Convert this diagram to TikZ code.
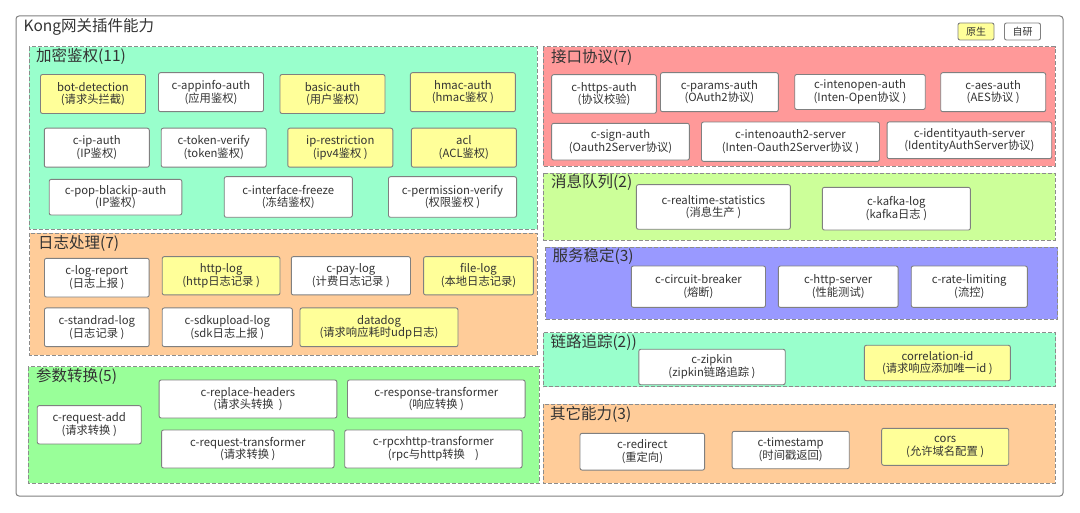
\documentclass[tikz,border=0pt]{standalone}
\usepackage{fontspec}
\setmainfont{Noto Sans CJK SC}
\usepackage{tikz}
\definecolor{boxgray}{HTML}{808080}
\definecolor{dashgray}{HTML}{8C8C8C}
\definecolor{txtgray}{HTML}{333333}
\definecolor{natyellow}{HTML}{FFFF99}
\definecolor{mint}{HTML}{99FFCC}
\definecolor{peach}{HTML}{FFCC99}
\definecolor{leaf}{HTML}{99FF99}
\definecolor{salmon}{HTML}{FF9999}
\definecolor{lime}{HTML}{CCFF99}
\definecolor{lavender}{HTML}{9999FF}
\tikzset{
  plug/.style={draw=boxgray, fill=white, rounded corners=2pt, line width=0.9pt, align=center, inner sep=0pt, text=txtgray, font=\fontsize{11.3}{12.7}\selectfont},
  native/.style={plug, fill=natyellow},
  sz/.style 2 args={minimum width=#1, minimum height=#2},
  sect/.style={draw=dashgray, line width=0.9pt, dash pattern=on 4pt off 2pt},
  secttitle/.style={anchor=west, inner sep=0pt, text=txtgray, font=\fontsize{15.5}{18}\selectfont},
  frame/.style={draw=boxgray, rounded corners=3pt, line width=1pt},
  legend/.style={font=\fontsize{10}{12}\selectfont, sz={36}{17}}
}

\begin{document}
\begin{tikzpicture}[x=1pt, y=-1pt]
\useasboundingbox (0,0) rectangle (1080,513);
\draw[frame] (16,16) rectangle (1063,496);
\node[secttitle] (title) at (23.4,26.7) {Kong网关插件能力};
\node[native, legend] (native) at (976,31.5) {原生};
\node[plug, legend] (own) at (1022.5,31.5) {自研};
\foreach \xa/\ya/\xb/\yb/\c in {29/46.7/537/229/mint, 29.6/233.3/537.2/355.3/peach, 28.2/366.7/539/483.3/leaf, 543.4/46.7/1055/166/salmon, 543.4/173.3/1055/240/lime, 545.5/247.3/1057.6/319.3/lavender, 543.4/332.7/1055.5/386.7/mint, 543.4/404/1055/483.3/peach}
  \draw[sect, fill=\c] (\xa,\ya) rectangle (\xb,\yb);

\node[secttitle] (authtitle) at (36,56.7) {加密鉴权(11)};
\node[native, sz={105}{39}] (botdetection) at (93,94) {bot-detection\\(请求头拦截)};
\node[plug, sz={105}{39}] (appinfo) at (211,92.2) {c-appinfo-auth\\(应用鉴权)};
\node[native, sz={105}{39}] (basicauth) at (332.5,94) {basic-auth\\(用户鉴权)};
\node[native, sz={105}{39}] (hmacauth) at (462.9,92.2) {hmac-auth\\(hmac鉴权 )};
\node[plug, sz={105}{39}] (ipauth) at (96.8,147.7) {c-ip-auth\\(IP鉴权)};
\node[plug, sz={105}{39}] (tokenverify) at (213.7,147.7) {c-token-verify\\(token鉴权)};
\node[native, sz={105}{39}] (iprestriction) at (340.3,147.7) {ip-restriction\\(ipv4鉴权 )};
\node[native, sz={105}{39}] (acl) at (463.9,147.7) {acl\\(ACL鉴权)};
\node[plug, sz={132.6}{35.7}] (popblackip) at (115.5,197.2) {c-pop-blackip-auth\\(IP鉴权)};
\node[plug, sz={128.1}{40.6}] (freeze) at (288.3,197) {c-interface-freeze\\(冻结鉴权)};
\node[plug, sz={128.1}{40.6}] (permission) at (452.5,197) {c-permission-verify\\(权限鉴权 )};

\node[secttitle] (logtitle) at (37.9,243.3) {日志处理(7)};
\node[plug, sz={104.7}{38.7}] (logreport) at (96.8,277.7) {c-log-report\\(日志上报 )};
\node[native, sz={117.8}{38.3}] (httplog) at (221.1,275.8) {http-log\\(http日志记录 )};
\node[plug, sz={119.2}{38.3}] (paylog) at (350.9,275.8) {c-pay-log\\(计费日志记录 )};
\node[native, sz={109.8}{38.3}] (filelog) at (478.5,275.8) {file-log\\(本地日志记录)};
\node[plug, sz={104.7}{38.7}] (standradlog) at (96.8,327.3) {c-standrad-log\\(日志记录 )};
\node[plug, sz={130.2}{38.7}] (sdkupload) at (227.3,327.3) {c-sdkupload-log\\(sdk日志上报 )};
\node[native, sz={158}{38.7}] (datadog) at (379,327.3) {datadog\\(请求响应耗时udp日志)};

\node[secttitle] (paramtitle) at (35.8,376.7) {参数转换(5)};
\node[plug, sz={104}{38.3}] (requestadd) at (89.2,424.8) {c-request-add\\(请求转换 )};
\node[plug, sz={177.7}{38}] (replaceheaders) at (248,399) {c-replace-headers\\(请求头转换 \ )};
\node[plug, sz={177.6}{38}] (responsetrans) at (436.3,399) {c-response-transformer\\(响应转换 )};
\node[plug, sz={172.5}{38}] (requesttrans) at (247.8,449) {c-request-transformer\\(请求转换 )};
\node[plug, sz={177.3}{38}] (rpcxhttp) at (433.4,449) {c-rpcxhttp-transformer\\(rpc与http转换 \ \ \ )};

\node[secttitle] (apititle) at (551,57.3) {接口协议(7)};
\node[plug, sz={104.7}{38.6}] (httpsauth) at (604,94) {c-https-auth\\(协议校验)};
\node[plug, sz={117.8}{39}] (paramsauth) at (719.4,92.2) {c-params-auth\\(OAuth2协议)};
\node[plug, sz={130.5}{35}] (intenopen) at (860,92) {c-intenopen-auth\\(Inten-Open协议 )};
\node[plug, sz={105}{39}] (aesauth) at (993.2,92.2) {c-aes-auth\\(AES协议 )};
\node[plug, sz={137.7}{36.7}] (signauth) at (620.5,141.7) {c-sign-auth\\(Oauth2Server协议)};
\node[plug, sz={178}{39.3}] (intenoauth) at (790.5,141.7) {c-intenoauth2-server\\(Inten-Oauth2Server协议 )};
\node[plug, sz={164.6}{36.7}] (identityauth) at (969.4,140.3) {c-identityauth-server\\(IdentityAuthServer协议)};

\node[secttitle] (mqtitle) at (551,182.7) {消息队列(2)};
\node[plug, sz={154}{44.6}] (realtime) at (713.4,207) {c-realtime-statistics\\(消息生产 )};
\node[plug, sz={148}{42.7}] (kafkalog) at (896.4,208.7) {c-kafka-log\\(kafka日志 )};

\node[secttitle] (stabletitle) at (552.4,256.7) {服务稳定(3)};
\node[plug, sz={134.2}{41.3}] (circuit) at (698.4,286.7) {c-circuit-breaker\\(熔断)};
\node[plug, sz={119.8}{41.3}] (httpserver) at (838.2,286.7) {c-http-server\\(性能测试)};
\node[plug, sz={116.1}{41.3}] (ratelimit) at (969.3,286.7) {c-rate-limiting\\(流控)};

\node[secttitle] (tracetitle) at (550.3,342.7) {链路追踪(2))};
\node[plug, sz={146.4}{35.4}] (zipkin) at (712,367) {c-zipkin\\(zipkin链路追踪 )};
\node[native, sz={146}{35.4}] (correlation) at (937.4,363) {correlation-id\\(请求响应添加唯一id )};

\node[secttitle] (othertitle) at (550,414) {其它能力(3)};
\node[plug, sz={124.6}{36.7}] (redirect) at (642.3,451.7) {c-redirect\\(重定向)};
\node[plug, sz={117.1}{37.4}] (timestamp) at (790.7,450) {c-timestamp\\(时间戳返回)};
\node[native, sz={127.1}{37}] (cors) at (945.2,446.8) {cors\\(允许域名配置 )};
\end{tikzpicture}
\end{document}
